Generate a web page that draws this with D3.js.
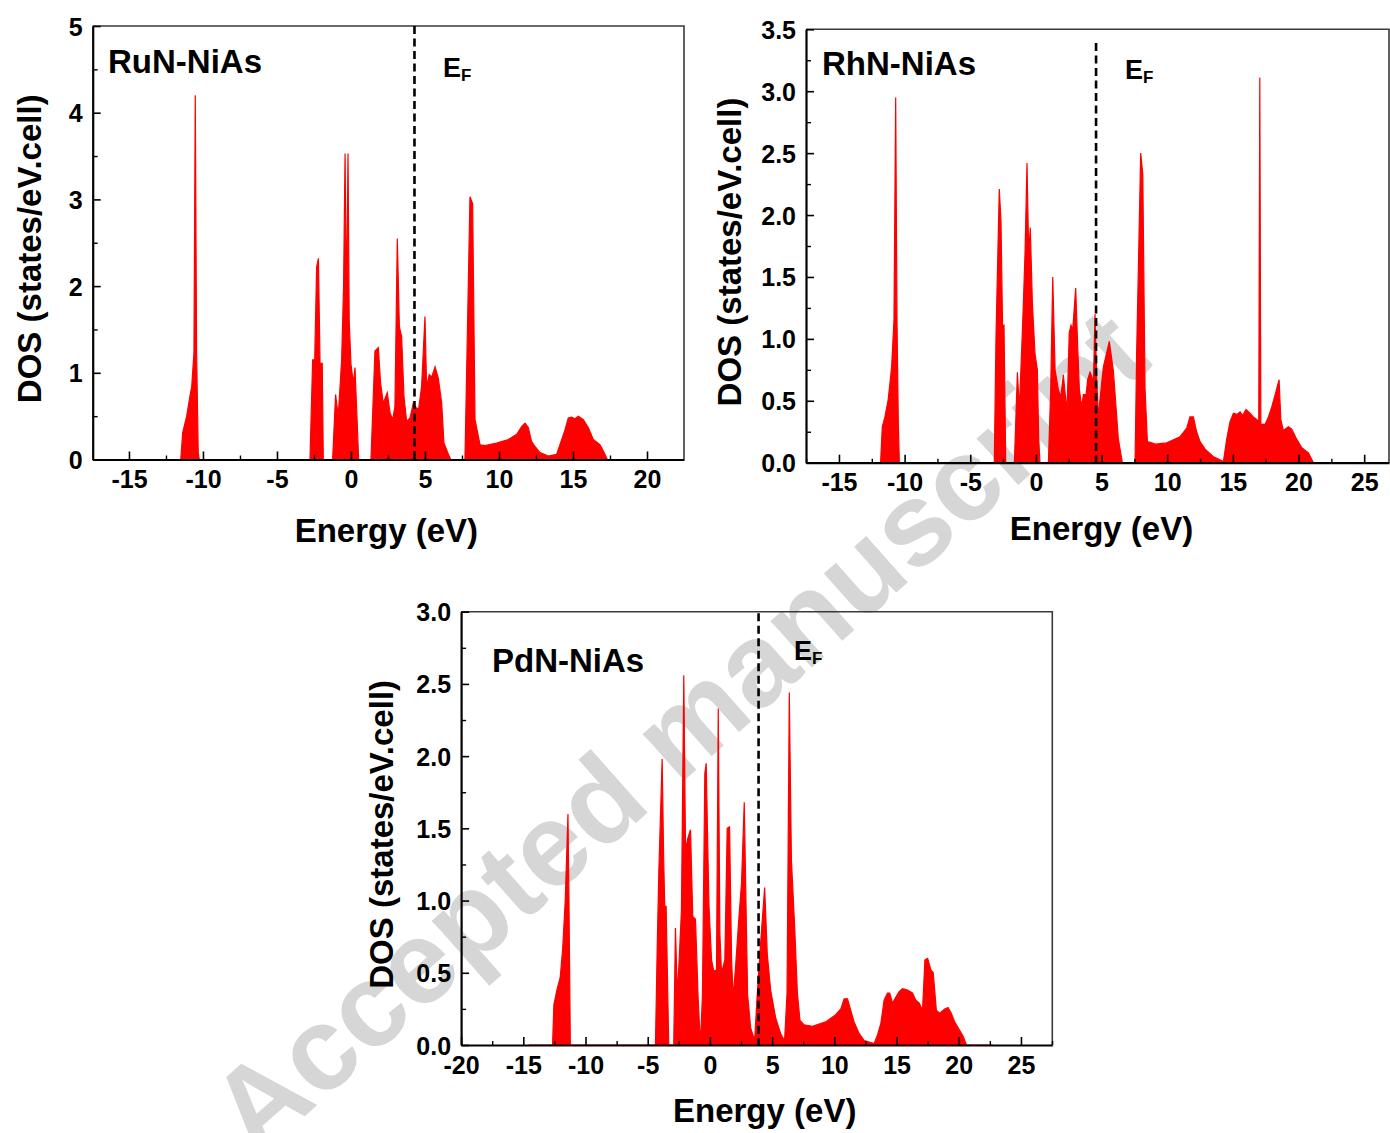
<!DOCTYPE html>
<html>
<head>
<meta charset="utf-8">
<script src="https://cdn.jsdelivr.net/npm/d3@7"></script>
<style>
  body { margin: 0; background: #fff; }
  svg text { font-family: "Liberation Sans", Arial, sans-serif; font-weight: bold; }
</style>
</head>
<body>
<svg id="chart" width="1390" height="1133"></svg>
<script>
// ---- Total density of states, states/eV.cell, versus energy (eV) ----

// RuN in the NiAs structure
const runEnergy = [-13.45, -11.5, -11.37, -11.1, -10.88, -10.76, -10.61, -10.52, -10.43, -10.32, -10.25,
  -2.77, -2.59, -2.45, -2.32, -2.2, -2.09, -1.94, -1.87,
  -1.24, -1.04, -0.86, -0.63, -0.5, -0.4, -0.3, -0.2, -0.12, 0.0, 0.16, 0.27, 0.38, 0.52,
  1.35, 1.62, 1.85, 2.0, 2.18, 2.45, 2.64, 2.82, 2.97, 3.13, 3.27, 3.42, 3.58, 3.76, 3.99, 4.21, 4.39, 4.57,
  4.77, 5.0, 5.11, 5.29, 5.45, 5.68, 5.9, 6.13, 6.28, 6.58, 6.74,
  7.7, 8.04, 8.22, 8.38, 8.72, 9.05, 9.84, 10.63, 11.2, 11.53, 11.76, 11.98, 12.2, 12.43, 12.77, 13.33,
  13.9, 14.24, 14.46, 14.68, 14.91, 15.13, 15.36, 15.7, 16.03, 16.37, 16.82, 17.1, 17.32, 19.4];
const runDos = [0, 0, 0.31, 0.5, 0.73, 0.84, 1.23, 4.2, 1.23, 0.08, 0,
  0, 1.15, 1.15, 2.22, 2.32, 1.11, 1.11, 0,
  0, 0.75, 0.5, 1.15, 2.0, 3.53, 1.8, 3.53, 1.6, 1.1, 0.88, 1.06, 0.6, 0,
  0, 1.25, 1.29, 0.88, 0.65, 0.77, 0.54, 0.46, 0.61, 2.55, 1.53, 1.42, 0.73, 0.44, 0.48, 0.65, 0.6, 0.58,
  0.84, 1.65, 0.84, 0.98, 0.95, 1.07, 0.94, 0.65, 0.19, 0.06, 0,
  0, 3.03, 2.95, 0.46, 0.17, 0.16, 0.19, 0.23, 0.29, 0.38, 0.42, 0.37, 0.21, 0.15, 0.08, 0.04,
  0.06, 0.23, 0.34, 0.48, 0.49, 0.47, 0.5, 0.46, 0.37, 0.23, 0.17, 0.08, 0, 0];

// RhN in the NiAs structure
const rhnEnergy = [-13.75, -11.83, -11.7, -11.5, -11.25, -10.99, -10.81, -10.68, -10.58, -10.48, -10.4,
  -3.17, -3.04, -2.79, -2.66, -2.54, -2.43, -2.3,
  -1.64, -1.41, -1.26, -1.0, -0.83, -0.68, -0.55, -0.43, -0.27, -0.07, 0.11, 0.21, 0.31,
  0.95, 1.13, 1.28, 1.46, 1.71, 1.89, 2.09, 2.27, 2.37, 2.54, 2.67, 2.8, 3.03, 3.18, 3.31, 3.49, 3.61,
  3.82, 3.94, 4.12, 4.27, 4.37, 4.5, 4.63, 4.75, 5.13, 5.59, 5.9, 6.28, 6.58,
  7.55, 7.67, 7.98, 8.14, 8.31, 8.49, 8.82, 9.1, 9.96, 10.98, 11.49, 11.73, 11.99, 12.24, 12.5, 12.88,
  13.5, 14.28, 14.53, 14.78, 15.04, 15.3, 15.55, 15.75, 16.0, 16.3, 16.56, 16.81, 16.97, 17.05, 17.13,
  17.46, 17.71, 17.96, 18.22, 18.52, 18.65, 18.84, 19.23, 19.48, 19.86, 20.25, 20.75, 21.14, 23.4];
const rhnDos = [0, 0, 0.29, 0.37, 0.51, 0.77, 1.15, 2.95, 1.15, 0.33, 0,
  0, 1.02, 2.21, 1.95, 1.1, 1.11, 0,
  0, 0.73, 0.43, 1.15, 1.69, 2.42, 1.69, 1.9, 1.29, 0.88, 0.75, 0.2, 0,
  0, 0.61, 1.5, 0.75, 0.59, 0.53, 0.71, 0.51, 0.42, 1.05, 1.11, 1.07, 1.41, 0.94, 0.59, 0.45, 0.55,
  0.55, 0.67, 0.73, 0.69, 0.61, 1.2, 0.67, 0.37, 0.77, 0.98, 0.74, 0.19, 0,
  0, 0.88, 2.5, 2.33, 0.6, 0.17, 0.16, 0.15, 0.16, 0.21, 0.28, 0.37, 0.37, 0.25, 0.17, 0.11,
  0.05, 0.01, 0.19, 0.33, 0.4, 0.39, 0.41, 0.38, 0.43, 0.4, 0.37, 0.35, 0.33, 3.11, 0.31,
  0.31, 0.37, 0.45, 0.55, 0.67, 0.35, 0.26, 0.29, 0.27, 0.19, 0.12, 0.08, 0, 0];

// PdN in the NiAs structure
const pdnEnergy = [-14.55, -12.65, -12.54, -12.3, -12.03, -11.84, -11.63, -11.41, -11.33, -11.22,
  -4.38, -4.24, -4.11, -3.84, -3.72, -3.63, -3.52, -3.31,
  -2.91, -2.77, -2.62, -2.5, -2.29, -2.1, -1.96, -1.78, -1.56, -1.38, -1.16, -0.94, -0.76,
  -0.6, -0.41, -0.3, -0.08, 0.13, 0.31, 0.53, 0.67, 0.8, 0.93, 1.2, 1.39, 1.58, 1.74, 1.87, 2.06,
  2.33, 2.54, 2.76, 2.92, 3.03, 3.27, 3.49, 3.6, 3.81, 4.07, 4.4, 4.61, 4.88, 5.28, 5.68, 6.0,
  6.2, 6.38, 6.55, 6.81, 7.03, 7.24, 7.56, 8.23, 9.31, 10.11, 10.52, 10.79, 11.06, 11.32, 11.59,
  11.99, 12.4, 13.2, 13.47, 13.74, 14.0, 14.27, 14.45, 14.68, 14.94, 15.21, 15.48, 15.88, 16.28,
  16.55, 16.82, 17.09, 17.28, 17.5, 17.76, 17.95, 18.2, 18.47, 18.87, 19.14, 19.4, 19.67, 20.08,
  20.35, 20.62, 22.73];
const pdnDos = [0, 0, 0.28, 0.38, 0.47, 0.66, 1.0, 1.6, 1.0, 0,
  0, 0.66, 1.19, 1.98, 1.3, 0.96, 0.96, 0,
  0, 0.81, 0.35, 0.54, 0.93, 2.56, 1.35, 1.43, 1.49, 0.89, 0.87, 0.31, 0,
  0.35, 1.88, 1.95, 0.97, 0.59, 0.51, 0.52, 2.33, 0.77, 0.5, 0.59, 1.5, 1.51, 0.59, 0.33, 0.54,
  0.88, 1.12, 1.68, 0.88, 0.35, 0.12, 0.06, 0.04, 0.36, 0.7, 1.09, 0.63, 0.38, 0.19, 0.08, 0.03,
  0.36, 2.44, 1.28, 0.82, 0.36, 0.17, 0.14, 0.13, 0.16, 0.21, 0.25, 0.32, 0.32, 0.24, 0.16,
  0.08, 0.03, 0.01, 0.07, 0.15, 0.31, 0.36, 0.36, 0.29, 0.33, 0.37, 0.39, 0.38, 0.36,
  0.31, 0.29, 0.24, 0.59, 0.6, 0.52, 0.5, 0.24, 0.22, 0.25, 0.26, 0.22, 0.16, 0.1,
  0.06, 0, 0];

// Fermi level of each compound (eV)
const fermiLevels = [4.29, 4.58, 3.91];
const compoundNames = ["RuN-NiAs", "RhN-NiAs", "PdN-NiAs"];

// Axis tick values
const runXTicks = [-15, -10, -5, 0, 5, 10, 15, 20];
const rhnXTicks = [-15, -10, -5, 0, 5, 10, 15, 20, 25];
const pdnXTicks = [-20, -15, -10, -5, 0, 5, 10, 15, 20, 25];
const runYTicks = [0, 1, 2, 3, 4, 5];
const rhnYTicks = [0, 0.5, 1.0, 1.5, 2.0, 2.5, 3.0, 3.5];
const pdnYTicks = [0, 0.5, 1.0, 1.5, 2.0, 2.5, 3.0];

// plain hyphen for negative tick labels
const energyFmt = d => String(d);

// ---- layout of the three panels ----
const panels = [
  { name: compoundNames[0], energy: runEnergy, dos: runDos, ef: fermiLevels[0],
    xTicks: runXTicks, yTicks: runYTicks, yFmt: d3.format("d"), yMinorStep: 0.5,
    box: { left: 92.7, right: 684, top: 26, bottom: 459.5 }, xDomain: [-17.45, 22.5], yDomain: [0, 5],
    efTop: 5, titlePos: [108, 73], efPos: [443, 77], xTitleY: 542, yTitleX: 41 },
  { name: compoundNames[1], energy: rhnEnergy, dos: rhnDos, ef: fermiLevels[1],
    xTicks: rhnXTicks, yTicks: rhnYTicks, yFmt: d3.format(".1f"), yMinorStep: 0.25,
    box: { left: 806, right: 1389, top: 29.3, bottom: 462.7 }, xDomain: [-17.51, 26.89], yDomain: [0, 3.5],
    efTop: 3.39, titlePos: [822, 75], efPos: [1125, 79], xTitleY: 540, yTitleX: 741 },
  { name: compoundNames[2], energy: pdnEnergy, dos: pdnDos, ef: fermiLevels[2],
    xTicks: pdnXTicks, yTicks: pdnYTicks, yFmt: d3.format(".1f"), yMinorStep: 0.25,
    box: { left: 461.1, right: 1052.3, top: 611.7, bottom: 1045 }, xDomain: [-20, 27.52], yDomain: [0, 3],
    efTop: 2.99, titlePos: [492, 672], efPos: [794, 660], xTitleY: 1122, yTitleX: 393 }
];

const svg = d3.select("#chart");

// faint diagonal stamp behind the plots
svg.append("text")
  .attr("transform", "translate(705,762) rotate(-41.5)")
  .attr("text-anchor", "middle")
  .attr("font-size", 118)
  .attr("fill", "#d6d6d6")
  .text("Accepted manuscript");

panels.forEach((p, i) => {
  const b = p.box;
  const x = d3.scaleLinear().domain(p.xDomain).range([b.left, b.right]);
  const y = d3.scaleLinear().domain(p.yDomain).range([b.bottom, b.top]);
  const g = svg.append("g");

  const clipId = "clip" + i;
  g.append("clipPath").attr("id", clipId)
    .append("rect").attr("x", b.left).attr("y", b.top - 2)
    .attr("width", b.right - b.left).attr("height", b.bottom - b.top + 2);

  const pts = p.energy.map((e, k) => [e, p.dos[k]]);
  const area = d3.area().x(d => x(d[0])).y0(y(0)).y1(d => y(d[1]));
  const line = d3.line().x(d => x(d[0])).y(d => y(d[1]));
  const plot = g.append("g").attr("clip-path", `url(#${clipId})`);
  plot.append("path").datum(pts).attr("d", area).attr("fill", "#ff0000");
  plot.append("path").datum(pts).attr("d", line)
    .attr("fill", "none").attr("stroke", "#ff0000").attr("stroke-width", 1.2);

  // top and right frame
  g.append("path")
    .attr("d", `M${b.left},${b.top}H${b.right}V${b.bottom}`)
    .attr("fill", "none").attr("stroke", "#3a3a3a").attr("stroke-width", 1.6);

  // minor ticks
  const xMinor = d3.range(Math.ceil(p.xDomain[0] / 2.5) * 2.5, p.xDomain[1], 2.5)
    .filter(v => Math.abs(v % 5) > 1e-6);
  const yMinor = d3.range(p.yMinorStep, p.yDomain[1], p.yMinorStep)
    .filter(v => !p.yTicks.some(t => Math.abs(t - v) < 1e-6));

  g.append("g").attr("transform", `translate(0,${b.bottom})`)
    .call(d3.axisBottom(x).tickValues(xMinor).tickSize(-4).tickSizeOuter(0).tickFormat(""))
    .call(a => a.select(".domain").remove())
    .call(a => a.selectAll("line").attr("stroke", "#000").attr("stroke-width", 1.4));
  g.append("g").attr("transform", `translate(${b.left},0)`)
    .call(d3.axisLeft(y).tickValues(yMinor).tickSize(-5).tickSizeOuter(0).tickFormat(""))
    .call(a => a.select(".domain").remove())
    .call(a => a.selectAll("line").attr("stroke", "#000").attr("stroke-width", 1.4));

  // major axes
  const xAxis = g.append("g").attr("transform", `translate(0,${b.bottom})`)
    .call(d3.axisBottom(x).tickValues(p.xTicks).tickFormat(energyFmt)
      .tickSize(-8).tickSizeOuter(0).tickPadding(11));
  const yAxis = g.append("g").attr("transform", `translate(${b.left},0)`)
    .call(d3.axisLeft(y).tickValues(p.yTicks).tickFormat(p.yFmt).tickSize(-8).tickSizeOuter(0).tickPadding(10));
  [xAxis, yAxis].forEach(a => {
    a.select(".domain").attr("stroke", "#000").attr("stroke-width", 2.2);
    a.selectAll(".tick line").attr("stroke", "#000").attr("stroke-width", 1.6);
    a.selectAll(".tick text").attr("font-size", 25).attr("fill", "#000")
      .style("font-family", "'Liberation Sans', Arial, sans-serif").style("font-weight", "bold");
  });
  yAxis.selectAll(".tick text").attr("dy", "0.36em");

  // Fermi level marker
  g.append("line")
    .attr("x1", x(p.ef)).attr("x2", x(p.ef))
    .attr("y1", y(p.efTop)).attr("y2", b.bottom)
    .attr("stroke", "#000").attr("stroke-width", 2.6).attr("stroke-dasharray", "8,4.5");

  const ef = g.append("text").attr("x", p.efPos[0]).attr("y", p.efPos[1])
    .attr("font-size", 27).attr("fill", "#000");
  ef.append("tspan").text("E");
  ef.append("tspan").attr("font-size", 17).attr("dy", 4).text("F");

  // compound label
  g.append("text").attr("x", p.titlePos[0]).attr("y", p.titlePos[1])
    .attr("font-size", 33).attr("fill", "#000").text(p.name);

  // axis titles
  g.append("text")
    .attr("x", (b.left + b.right) / 2 + (i === 0 ? -2 : (i === 1 ? 4 : 8)))
    .attr("y", p.xTitleY)
    .attr("text-anchor", "middle").attr("font-size", 33).attr("fill", "#000")
    .text("Energy (eV)");
  g.append("text")
    .attr("transform", `translate(${p.yTitleX},${(b.top + b.bottom) / 2 + 6}) rotate(-90)`)
    .attr("text-anchor", "middle").attr("font-size", 33).attr("fill", "#000")
    .text("DOS (states/eV.cell)");
});
</script>
</body>
</html>
